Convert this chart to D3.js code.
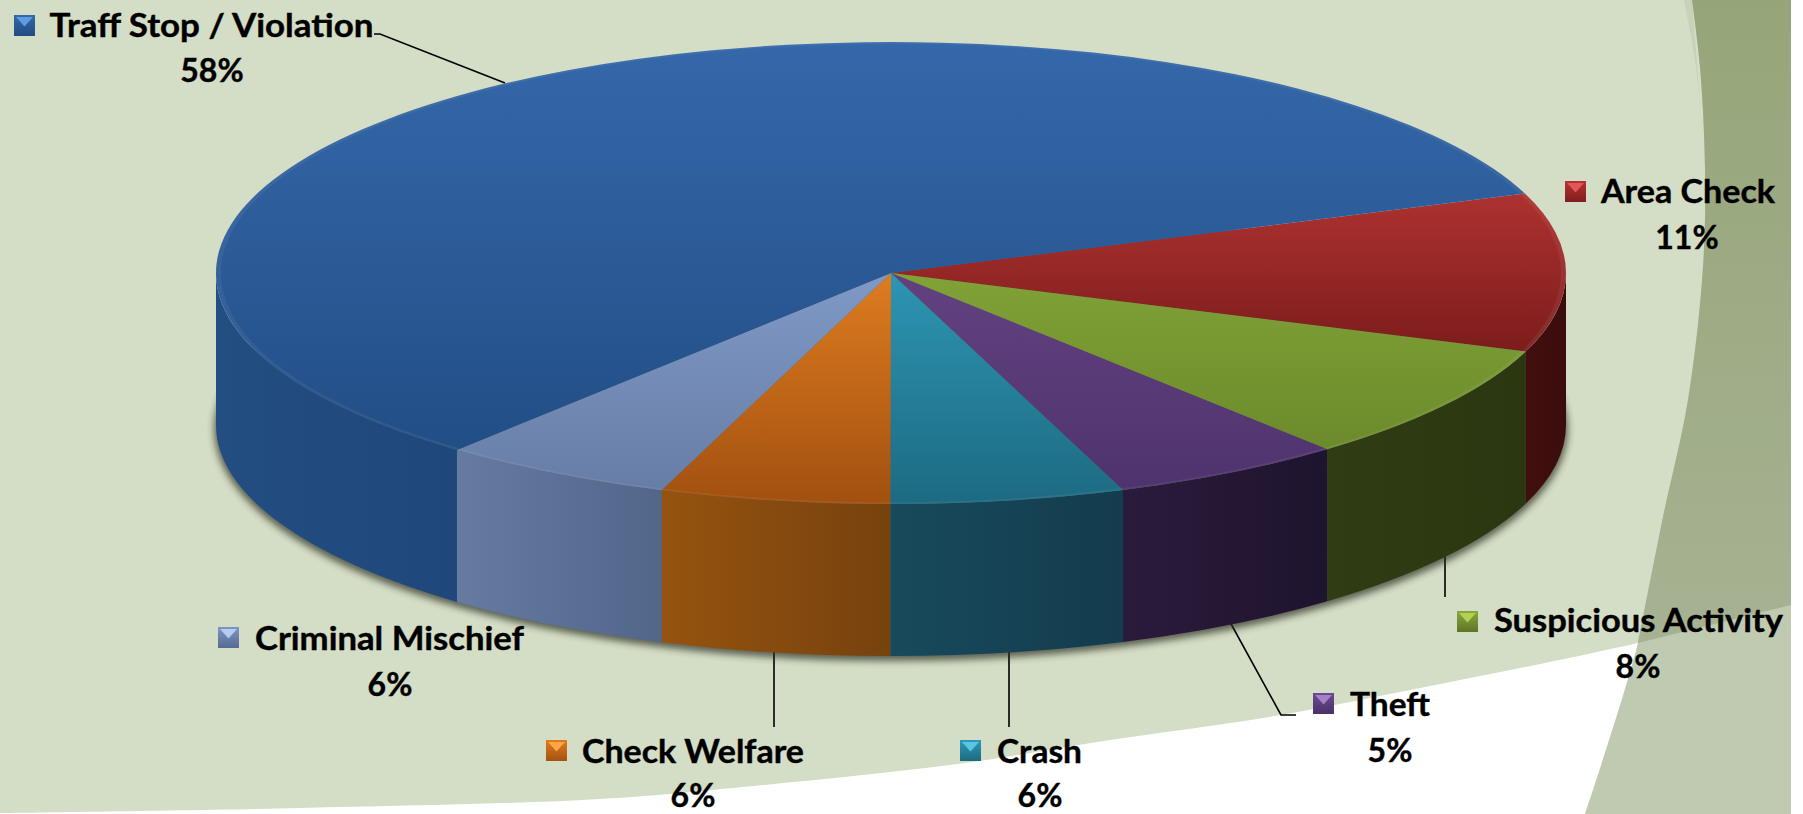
<!DOCTYPE html>
<html lang="en">
<head>
<meta charset="utf-8">
<title>calls for service</title>
<style>
  html, body { margin: 0; padding: 0; background: #fff; }
  svg { display: block; }
  text { font-family: Lato, "Open Sans", sans-serif; font-weight: 700; fill: #000; stroke: #000; stroke-width: 0.4; }
</style>
</head>
<body>
<script src="https://d3js.org/d3.v7.min.js"></script>
<script>

// data, in drawing order going clockwise from the blue / red edge
var categories = ["Area Check", "Suspicious Activity", "Theft", "Crash", "Check Welfare", "Criminal Mischief", "Traff Stop / Violation"];
var values = [11.1, 8.3, 5.6, 5.6, 5.5, 5.6, 58.3];
var percentLabels = ["11%", "8%", "5%", "6%", "6%", "6%", "58%"];

// colours: top face [top, bottom], wall [left, right], swatch [light, mid, dark]
var faceColors = [["#ad3230", "#7c1c1c"], ["#80a236", "#6c8a2c"], ["#634180", "#4e336e"], ["#2d95b3", "#1d6a82"], ["#de7c20", "#a25010"], ["#7f99c6", "#677da6"], ["#3568aa", "#224e86"]];
var wallColors = [["#420f0e", "#3a0d0c"], ["#303c13", "#2b3710"], ["#2b1b3b", "#1e142e"], ["#174a5c", "#143c4e"], ["#96530f", "#76420e"], ["#657ba2", "#52668a"], ["#234e82", "#1f477b"]];
var swatchColors = [["#e0565a", "#b8312f", "#7f1f1e"], ["#b4d050", "#8aa83c", "#5e7526"], ["#a283c9", "#6d4a93", "#4a3268"], ["#58c8e2", "#2f9ab6", "#1d6a80"], ["#fba748", "#e07c1f", "#a2540f"], ["#b6ccee", "#7d96c2", "#566b90"], ["#5f9be0", "#3568aa", "#214c80"]];

// layout in page pixels
var width = 1803, height = 814;
var cx = 891, cy = 273, rx = 675, ry = 231, depth = 152;
var firstEdge = 69.9 * Math.PI / 180;
var swatchSize = 21;
var labelX = [1601, 1494, 1350, 997, 582, 255, 49.5];
var labelY = [203, 632, 716, 763, 763, 650, 37];
var labelW = [174, 289, 80, 85, 222, 269, 324];
var percentX = [1687, 1638, 1390, 1040, 693, 390, 212];
var percentY = [249, 678, 762, 807, 807, 696, 82];
var swatchX = [1565, 1457, 1313, 960, 546, 218, 14];
var swatchY = [181, 611, 693, 740, 740, 627, 15];
var leaders = [
  [[374, 34], [380, 34], [505, 83]],
  [[1445, 555], [1445, 597]],
  [[1230, 622], [1281, 715], [1296, 715]],
  [[1009, 650], [1009, 727]],
  [[774, 650], [774, 727]]
];
var whiteEdge = [[0, 813], [300, 808], [600, 799], [753, 786], [957, 764], [1110, 740], [1263, 718], [1400, 692], [1638, 643], [1791, 605]];
var bandEdge = [[1692, 0], [1700, 67], [1705, 167], [1703, 267], [1688, 400], [1663, 517], [1638, 643], [1585, 814]];
var stripEdge = [[1684, 0], [1696, 67], [1705, 167]];

var svg = d3.select("body").append("svg")
    .attr("width", width)
    .attr("height", height);
var defs = svg.append("defs");

function gradient(id, horizontal, colors) {
  var g = defs.append("linearGradient").attr("id", id)
      .attr("x1", 0).attr("y1", 0)
      .attr("x2", horizontal ? 1 : 0).attr("y2", horizontal ? 0 : 1);
  colors.forEach(function(c, i) {
    g.append("stop").attr("offset", i / (colors.length - 1)).attr("stop-color", c);
  });
}
categories.forEach(function(c, i) {
  gradient("face" + i, false, faceColors[i]);
  gradient("wall" + i, true, wallColors[i]);
  gradient("swatch" + i, false, [swatchColors[i][1], swatchColors[i][2]]);
});
gradient("band", false, ["#96a579", "#a6b292"]);
defs.append("filter").attr("id", "blur")
    .attr("x", "-5%").attr("y", "-5%").attr("width", "110%").attr("height", "110%")
  .append("feGaussianBlur").attr("stdDeviation", 3.5);

//background
var line = d3.line().curve(d3.curveCatmullRom);
svg.append("rect").attr("width", 1791).attr("height", height).attr("fill", "#fff");
svg.append("path")
    .attr("d", "M0,0L1791,0L" + line(whiteEdge.slice().reverse()).slice(1) + "Z")
    .attr("fill", "#d4ddc5");
svg.append("path")
    .attr("d", line(stripEdge) + "L1692,0Z")
    .attr("fill", "#c8d1b9");
// the band is darker over the green than over the white
svg.append("path")
    .attr("d", line(bandEdge) + "L1791,814L1791,0Z")
    .attr("fill", "#c0cab1");
var upperBand = line(bandEdge.slice(0, 7)) + "L" + whiteEdge[9].join(",") + "L1791,0Z";
svg.append("path").attr("d", upperBand).attr("fill", "url(#band)");

//leader lines
var straight = d3.line();
svg.selectAll(".leader").data(leaders).enter().append("path")
    .attr("class", "leader")
    .attr("d", straight)
    .attr("fill", "none")
    .attr("stroke", "#000")
    .attr("stroke-width", 1.6);

//shadow under the pie
svg.append("ellipse")
    .attr("cx", cx).attr("cy", cy + depth + 4)
    .attr("rx", rx + 2).attr("ry", ry + 1)
    .attr("fill", "#2a2d20")
    .attr("opacity", 0.7)
    .attr("filter", "url(#blur)");

var pie = d3.pie().sort(null).startAngle(firstEdge).endAngle(firstEdge + 2 * Math.PI);
var arcs = pie(values);
var squash = ry / rx;
var pieGroup = svg.append("g").attr("transform", "translate(" + cx + "," + cy + ") scale(1," + squash + ")");

// d3.arc angles start at 12 o'clock, d3.path angles at 3 o'clock
function wallPath(a0, a1) {
  var p = d3.path(), off = depth / squash;
  p.moveTo(rx * Math.cos(a0), rx * Math.sin(a0));
  p.arc(0, 0, rx, a0, a1);
  p.lineTo(rx * Math.cos(a1), rx * Math.sin(a1) + off);
  p.arc(0, off, rx, a1, a0, true);
  p.closePath();
  return p.toString();
}

// only the part of a slice between 3 o'clock and 9 o'clock shows a wall
function wallRange(d) {
  var a0 = d.startAngle - Math.PI / 2, a1 = d.endAngle - Math.PI / 2;
  return [Math.max(a0, 0), Math.min(a1, Math.PI)];
}

arcs.forEach(function(d, i) {
  var r = wallRange(d);
  if (r[1] > r[0]) {
    pieGroup.append("path")
        .attr("d", wallPath(r[0], r[1]))
        .attr("fill", "url(#wall" + i + ")");
  }
});

var arc = d3.arc().innerRadius(0).outerRadius(rx);
pieGroup.selectAll(".slice").data(arcs).enter().append("path")
    .attr("class", "slice")
    .attr("d", arc)
    .attr("fill", function(d, i) { return "url(#face" + i + ")"; });

// thin light bevel on the front rim
var rim = d3.arc().innerRadius(rx - 5).outerRadius(rx);
pieGroup.selectAll(".rim").data(arcs).enter().append("path")
    .attr("class", "rim")
    .attr("d", rim)
    .attr("fill", "#fff")
    .attr("opacity", 0.06);

//legend swatches and labels
categories.forEach(function(c, i) {
  var x = swatchX[i], y = swatchY[i], s = swatchSize;
  svg.append("rect")
      .attr("x", x).attr("y", y)
      .attr("width", s).attr("height", s)
      .attr("fill", "url(#swatch" + i + ")");
  svg.append("path")
      .attr("d", d3.line()([[x + 2, y + 2], [x + s - 2, y + 2], [x + s / 2, y + s * 0.55]]) + "Z")
      .attr("fill", swatchColors[i][0]);
  svg.append("text")
      .attr("x", labelX[i]).attr("y", labelY[i])
      .attr("font-size", 32)
      .attr("textLength", labelW[i])
      .attr("lengthAdjust", "spacingAndGlyphs")
      .text(c);
  svg.append("text")
      .attr("x", percentX[i]).attr("y", percentY[i])
      .attr("font-size", 32)
      .attr("text-anchor", "middle")
      .text(percentLabels[i]);
});

</script>
</body>
</html>
